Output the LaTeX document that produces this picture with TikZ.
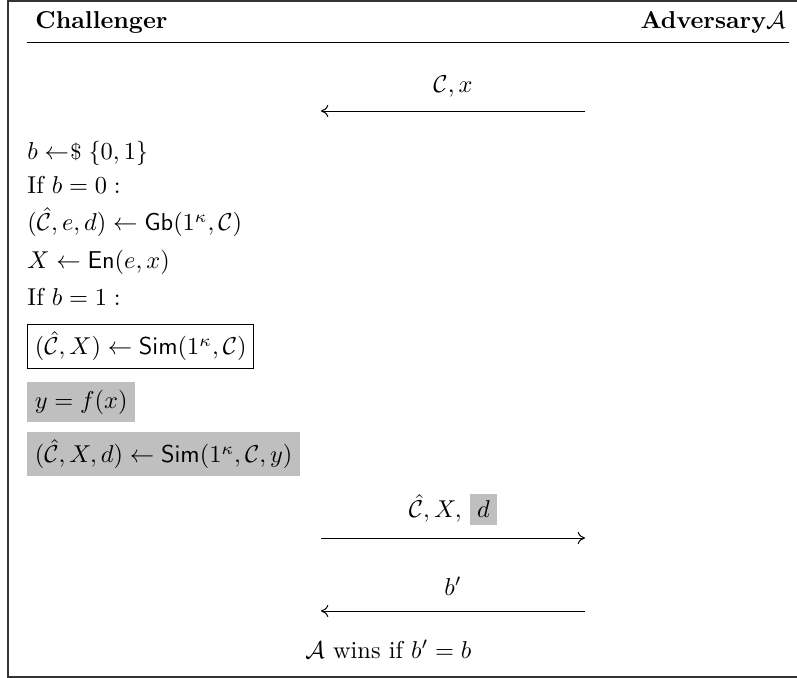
\documentclass[tikz,border=0pt]{standalone}
\usepackage{amsmath}
\usetikzlibrary{arrows.meta}
\newcommand{\smplarrow}{\mathrel{\leftarrow\mkern-4mu\text{\small\$}}}
\begin{document}
\begin{tikzpicture}[x=0.41pt,y=-0.41pt,
  lbl/.style={inner sep=0pt, anchor=base west},
  msg/.style={inner sep=0pt, anchor=base},
  boxed/.style={draw, line width=0.4pt, inner sep=3pt, anchor=north west},
  shaded/.style={fill=black!25, inner sep=3pt, anchor=north west},
  arr/.style={line width=0.4pt, -{To[length=3pt,width=5pt]}},
  frameline/.style={line width=0.5pt, draw=black!80},
  rule/.style={line width=0.4pt}]
\useasboundingbox (0,0) rectangle (797,678);
% outer frame (open on the right)
\coordinate (ftr) at (797,1);
\coordinate (ftl) at (8,1);
\coordinate (fbl) at (8,677);
\coordinate (fbr) at (797,677);
\draw[frameline] (ftr) -- (ftl) -- (fbl) -- (fbr);
% header
\node[lbl] (chal) at (35,29) {\textbf{Challenger}};
\node[inner sep=0pt, anchor=base east] (adv) at (786,29) {\textbf{Adversary}$\mathcal{A}$};
\coordinate (rl) at (27,42);
\coordinate (rr) at (789,42);
\draw[rule] (rl) -- (rr);
% message 1
\node[msg] (cx) at (453,93) {$\mathcal{C}, x$};
\coordinate (m1l) at (321,111);
\coordinate (m1r) at (585,111);
\draw[arr] (m1r) -- (m1l);
% challenger lines
\node[lbl] (l1) at (27,160) {$b \smplarrow \{0,1\}$};
\node[lbl] (l2) at (27,194) {If $b = 0:$};
\node[lbl] (l3) at (27,231) {$(\hat{\mathcal{C}}, e, d) \leftarrow \mathsf{Gb}(1^{\kappa}, \mathcal{C})$};
\node[lbl] (l4) at (27,269) {$X \leftarrow \mathsf{En}(e, x)$};
\node[lbl] (l5) at (27,306) {If $b = 1:$};
\node[boxed] (bx) at (27,324) {$(\hat{\mathcal{C}}, X) \leftarrow \mathsf{Sim}(1^{\kappa}, \mathcal{C})$};
\node[shaded] (g1) at (27,382) {$y = f(x)$};
\node[shaded] (g2) at (27,432) {$(\hat{\mathcal{C}}, X, d) \leftarrow \mathsf{Sim}(1^{\kappa}, \mathcal{C}, y)$};
% message 2
\node[msg] (cxd) at (453,518) {$\hat{\mathcal{C}}, X,$ \colorbox{black!25}{$d$}};
\coordinate (m2l) at (321,538);
\coordinate (m2r) at (585,538);
\draw[arr] (m2l) -- (m2r);
% message 3
\node[msg] (bp) at (453,595) {$b'$};
\coordinate (m3l) at (321,611);
\coordinate (m3r) at (585,611);
\draw[arr] (m3r) -- (m3l);
% final line
\node[lbl] (win) at (305,658) {$\mathcal{A}$ wins if $b' = b$};
\end{tikzpicture}
\end{document}
